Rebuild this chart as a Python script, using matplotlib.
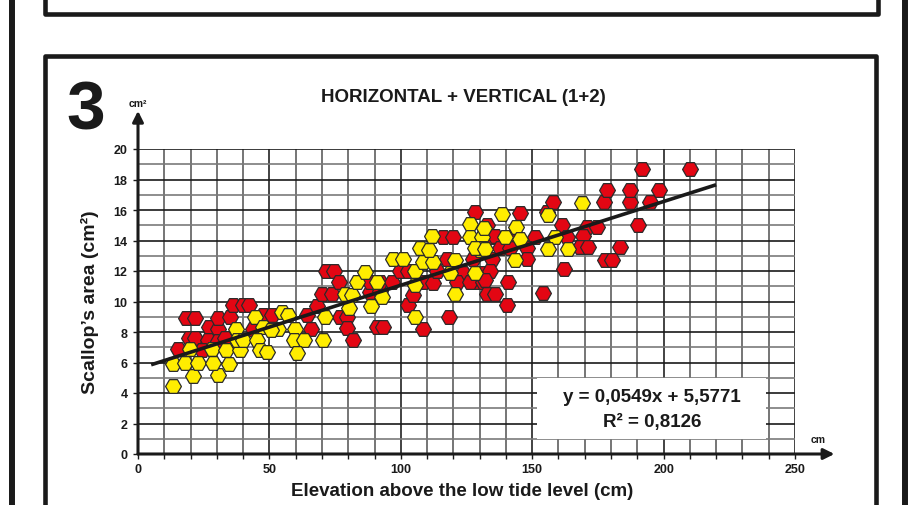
import matplotlib
matplotlib.use("Agg")
import matplotlib.pyplot as plt
from matplotlib.patches import Rectangle
from matplotlib.lines import Line2D

plt.rcParams['font.family'] = ['Liberation Sans', 'DejaVu Sans']
plt.rcParams['font.weight'] = 'bold'

# Data (elevation in cm, area in cm2).
red_x = [15.3, 19.5, 21.7, 18.3, 21.7, 27.1, 30.6, 30.6, 35.0, 36.3, 40.0, 42.3,
         26.8, 30.6, 33.1, 43.9, 24.2, 47.4, 50.9, 64.2, 68.0, 65.7, 69.9, 73.7,
         71.4, 74.6, 76.3, 76.9, 79.6, 79.4, 82.0, 90.8, 93.3, 88.3, 92.1, 88.3,
         92.1, 96.5, 99.7, 102.9, 102.9, 108.6, 104.8, 108.6, 112.4, 113.6, 117.4,
         116.2, 120.0, 128.2, 132.7, 134.6, 127.6, 134.6, 123.8, 131.4, 134.0,
         121.3, 128.9, 126.3, 131.4, 132.7, 135.8, 132.0, 140.9, 140.3, 118.5,
         154.2, 162.1, 135.8, 140.3, 151.1, 145.4, 137.7, 141.6, 147.9, 147.9,
         155.5, 158.0, 161.2, 170.7, 174.5, 163.1, 169.4, 168.2, 171.4, 183.4,
         177.7, 180.2, 177.3, 187.4, 194.8, 178.3, 187.4, 198.2, 191.6, 210.0,
         190.4]
red_y = [6.9, 7.6, 7.6, 8.9, 8.9, 8.3, 8.2, 8.9, 9.0, 9.8, 9.8, 9.8,
         7.5, 7.4, 7.6, 8.2, 6.8, 9.1, 9.1, 9.1, 9.7, 8.2, 10.5, 10.5,
         12.0, 12.0, 11.3, 9.0, 9.0, 8.25, 7.5, 8.3, 8.3, 10.6, 10.7, 11.25,
         11.25, 11.25, 12.0, 12.0, 9.8, 8.2, 10.4, 11.25, 11.2, 12.0, 12.8,
         14.2, 14.2, 15.85, 15.0, 14.2, 12.8, 12.8, 11.9, 11.9, 12.0,
         11.25, 11.25, 11.3, 11.3, 10.5, 10.5, 11.4, 11.25, 9.8, 9.0,
         10.55, 12.1, 14.3, 14.2, 14.2, 15.8, 13.5, 13.5, 13.5, 12.8,
         15.85, 16.55, 15.0, 14.9, 14.9, 14.2, 14.3, 13.55, 13.55, 13.55,
         12.7, 12.7, 16.5, 16.5, 16.55, 17.3, 17.3, 17.3, 18.7, 18.7,
         15.0]

yel_x = [13.4, 21.0, 30.3, 13.2, 17.9, 23.0, 28.7, 34.6, 19.8, 28.0, 33.5, 39.0,
         37.3, 37.5, 40.0, 44.5, 47.7, 45.4, 46.4, 49.0, 54.7, 57.2, 53.4, 50.5,
         59.7, 59.4, 63.2, 60.4, 70.5, 71.2, 78.8, 81.3, 80.4, 83.2, 86.4, 88.5,
         90.8, 92.7, 97.2, 101.0, 105.4, 105.4, 105.4, 108.6, 112.3, 107.3, 110.8,
         111.7, 126.3, 126.3, 130.8, 130.1, 120.6, 118.7, 128.2, 120.6, 138.4,
         144.0, 139.6, 145.4, 158.7, 131.4, 128.2, 132.0, 143.5, 156.1, 163.7,
         155.9, 168.8, 131.5]
yel_y = [4.48, 5.1, 5.2, 5.9, 6.0, 6.0, 6.0, 5.9, 6.9, 6.9, 6.8, 6.8,
         8.2, 7.5, 7.5, 9.0, 8.3, 7.5, 6.8, 6.7, 9.3, 9.1, 8.2, 8.15,
         8.2, 7.5, 7.5, 6.6, 7.5, 9.0, 10.5, 10.4, 9.55, 11.25, 11.95, 9.7,
         11.25, 10.3, 12.8, 12.8, 12.0, 9.0, 11.1, 12.6, 12.6, 13.5, 13.4,
         14.3, 15.1, 14.2, 14.2, 13.4, 12.75, 11.9, 11.9, 10.5, 15.75,
         14.9, 14.2, 14.1, 14.2, 13.5, 13.5, 13.45, 12.7, 13.45, 13.45,
         15.7, 16.45, 14.8]

x_ticks = [0, 50, 100, 150, 200, 250]
y_ticks = [0, 2, 4, 6, 8, 10, 12, 14, 16, 18, 20]
slope, intercept = 0.0549, 5.5771
fit_x = [5, 220]
fit_y = [slope * v + intercept for v in fit_x]

W, H = 923, 506
fig = plt.figure(figsize=(W / 100, H / 100), dpi=100)


def fx(p):
    return p / W


def fy(p):
    return 1 - p / H


# Page frame: outer side lines, box of the panel above, box of this panel.
dark = '#1a1a1a'
txt = '#1a1a1a'
for x in (12, 905):
    fig.add_artist(Line2D([fx(x), fx(x)], [0, 1], color=dark, lw=4.3))
fig.add_artist(Line2D([fx(44.5), fx(44.5), fx(878), fx(878)],
                      [1, fy(15), fy(15), 1], color=dark, lw=3.3))
fig.add_artist(Line2D([fx(44.5), fx(44.5), fx(875.5), fx(875.5)],
                      [0, fy(57), fy(57), 0], color=dark, lw=3.3))

ax = fig.add_axes([fx(138), 51 / H, 657 / W, 305 / H])
ax.set_xlim(0, 250)
ax.set_ylim(0, 20)
for s in ax.spines.values():
    s.set_visible(False)

# Grid
for x in range(10, 251, 10):
    c = '#222222' if x % 50 == 0 else '#5e5e5e'
    ax.axvline(x, color=c, lw=1.2, zorder=1)
for y in range(1, 21):
    c = '#1a1a1a' if y % 2 == 0 else '#7a7a7a'
    ax.axhline(y, color=c, lw=1.2, zorder=1)

# Equation box
ax.add_patch(Rectangle((152, 1.0), 87, 4.0, facecolor='white', edgecolor='none', zorder=2))
ax.text(195.6, 3.8, 'y = 0,0549x + 5,5771', ha='center', va='center',
        fontsize=13.5, fontweight='bold', color=txt, zorder=6)
ax.text(195.6, 2.1, 'R² = 0,8126', ha='center', va='center',
        fontsize=13.5, fontweight='bold', color=txt, zorder=6)

# Points
ax.scatter(red_x, red_y, marker='H', s=130, c='#e30613', edgecolors='#2a2a2a',
           linewidths=0.9, zorder=3)
ax.scatter(yel_x, yel_y, marker='H', s=130, c='#ffed00', edgecolors='#2a2a2a',
           linewidths=0.9, zorder=3)

# Trend line
ax.plot(fit_x, fit_y, color=dark, lw=2.6, solid_capstyle='butt', zorder=5)

# Axes with arrows
ax.annotate('', xy=(265, 0), xytext=(0, 0), annotation_clip=False,
            arrowprops=dict(arrowstyle='-|>', color=dark, lw=2.2, mutation_scale=16,
                            shrinkA=0, shrinkB=0), zorder=6)
ax.annotate('', xy=(0, 22.5), xytext=(0, 0), annotation_clip=False,
            arrowprops=dict(arrowstyle='-|>', color=dark, lw=2.2, mutation_scale=16,
                            shrinkA=0, shrinkB=0), zorder=6)

ax.set_xticks(x_ticks)
ax.set_xticks(range(0, 251, 10), minor=True)
ax.set_yticks(y_ticks)
ax.set_xticklabels([str(v) for v in x_ticks], fontsize=9, fontweight='bold', color=txt)
ax.set_yticklabels([str(v) for v in y_ticks], fontsize=9, fontweight='bold', color=txt)
ax.tick_params(axis='x', which='both', direction='out', length=3.5, width=1, color=dark, pad=3)
ax.tick_params(axis='y', direction='out', length=3.5, width=1, color=dark, pad=4)

# Labels
fig.text(fx(86), fy(112), '3', fontsize=50, fontweight='bold', ha='center', va='center',
         color=txt)
fig.text(fx(463), fy(97), 'HORIZONTAL + VERTICAL (1+2)', fontsize=13.5, fontweight='bold',
         ha='center', va='center', color=txt)
fig.text(fx(138), fy(104), 'cm²', fontsize=7.5, fontweight='bold', ha='center', va='center',
         color=txt)
fig.text(fx(818), fy(440), 'cm', fontsize=7.5, fontweight='bold', ha='center', va='center',
         color=txt)
fig.text(fx(90), fy(302), 'Scallop’s area (cm²)', rotation=90, fontsize=14,
         fontweight='bold', ha='center', va='center', color=txt)
fig.text(fx(462), fy(492), 'Elevation above the low tide level (cm)', fontsize=13.5,
         fontweight='bold', ha='center', va='center', color=txt)

fig.savefig('out.png', dpi=100)
